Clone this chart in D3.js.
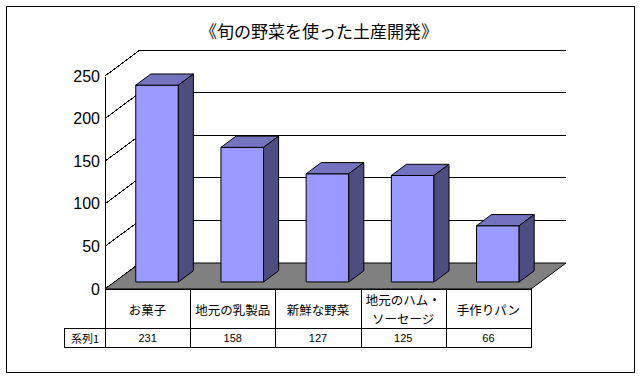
<!DOCTYPE html>
<html>
<head>
<meta charset="utf-8">
<script src="https://cdn.jsdelivr.net/npm/d3@7"></script>
<style>
  html, body { margin: 0; padding: 0; background: #fff; }
  svg { display: block; }
</style>
</head>
<body>
<svg id="chart" width="642" height="380"></svg>
<script>
const titleText = "《旬の野菜を使った土産開発》";
const seriesName = "系列1";
const categories = ["お菓子", "地元の乳製品", "新鮮な野菜", "地元のハム・\nソーセージ", "手作りパン"];
const values = [231, 158, 127, 125, 66];
const tickValues = [0, 50, 100, 150, 200, 250];

const svg = d3.select("#chart");

// depth projection (3D look)
const DX = 35, DY = 26;
const zFront = 0.27, zBack = 0.70;
const P = (x, y, z) => [x + DX * z, y - DY * z];

const x = d3.scaleBand().domain(d3.range(categories.length)).range([105, 531]).paddingInner(0.5).paddingOuter(0.25);
const y = d3.scaleLinear().domain([0, 250]).range([289, 76]);
const x0 = x.range()[0], x1 = x.range()[1];

// outer frame
svg.append("rect").attr("x", 6.5).attr("y", 6.5).attr("width", 628).attr("height", 366)
  .attr("fill", "#fff").attr("stroke", "#000").attr("stroke-width", 1);

// title
svg.append("text").attr("x", 319).attr("y", 30).attr("text-anchor", "middle")
  .attr("dominant-baseline", "central")
  .style("font-family", "'Noto Sans CJK JP', sans-serif").style("font-size", "17px")
  .text(titleText);

const line = d3.line();
const g = svg.append("g");

// gridlines: left wall diagonal + back wall horizontal
tickValues.forEach(t => {
  const a = [x0, y(t)], b = P(x0, y(t), 1), c = P(x1, y(t), 1);
  g.append("path").attr("d", line([a, b, c])).attr("fill", "none")
    .attr("stroke", "#000").attr("stroke-width", 1).attr("shape-rendering", "crispEdges");
});

// floor
g.append("path").attr("d", line([[x0, y(0)], P(x0, y(0), 1), P(x1, y(0), 1), [x1, y(0)]]) + "Z")
  .attr("fill", "#808080").attr("stroke", "#000").attr("stroke-width", 1);

// y axis
const axis = d3.axisLeft(y).tickValues(tickValues).tickSize(0).tickPadding(5);
const ag = svg.append("g").attr("transform", `translate(${x0},0)`).call(axis);
ag.select(".domain").attr("stroke", "#000").attr("shape-rendering", "crispEdges");
ag.selectAll("text").style("font-family", "'Liberation Sans', Arial, sans-serif")
  .style("font-size", "16px").attr("fill", "#000");

// bars
const bw = x.bandwidth();
values.forEach((v, i) => {
  const bx = x(i);
  const fl = P(bx, y(v), zFront), fb = P(bx, y(0), zFront);
  const xr = fl[0] + bw;
  const ddx = DX * (zBack - zFront), ddy = DY * (zBack - zFront);
  const bg = g.append("g").attr("stroke", "#000").attr("stroke-width", 1).attr("stroke-linejoin", "miter");
  bg.append("path").attr("d", line([[fl[0], fl[1]], [xr, fl[1]], [xr, fb[1]], [fl[0], fb[1]]]) + "Z")
    .attr("fill", "#9999FF");
  bg.append("path").attr("d", line([[fl[0], fl[1]], [xr, fl[1]], [xr + ddx, fl[1] - ddy], [fl[0] + ddx, fl[1] - ddy]]) + "Z")
    .attr("fill", "#7373BF");
  bg.append("path").attr("d", line([[xr, fl[1]], [xr + ddx, fl[1] - ddy], [xr + ddx, fb[1] - ddy], [xr, fb[1]]]) + "Z")
    .attr("fill", "#4D4D80");
});

// data table
const tTop = y(0), tMid = 328, tBot = 347, tLeft = 64;
const tg = svg.append("g").attr("stroke", "#000").attr("stroke-width", 1).attr("shape-rendering", "crispEdges");
const hl = (xa, xb, yy) => tg.append("line").attr("x1", xa).attr("x2", xb).attr("y1", yy + 0.5).attr("y2", yy + 0.5);
const vl = (xx, ya, yb) => tg.append("line").attr("x1", xx + 0.5).attr("x2", xx + 0.5).attr("y1", ya).attr("y2", yb);
hl(x0, x1, Math.round(tTop));
hl(tLeft, x1, tMid);
hl(tLeft, x1, tBot);
vl(tLeft, tMid, tBot + 1);
const step = x.step();
d3.range(categories.length + 1).forEach(i => vl(Math.round(x0 + i * step), tTop, tBot + 1));

const cg = svg.append("g").style("font-family", "'Noto Sans CJK JP', sans-serif").attr("text-anchor", "middle");
categories.forEach((c, i) => {
  const cx = x0 + (i + 0.5) * step;
  const lines = c.split("\n");
  const lh = 18.6;
  const cy = (tTop + tMid) / 2 + 0.5;
  const t = cg.append("text").style("font-size", "12.5px");
  lines.forEach((ln, k) => {
    t.append("tspan").attr("x", cx).attr("y", cy + (k - (lines.length - 1) / 2) * lh)
      .attr("dominant-baseline", "central").text(ln);
  });
  cg.append("text").attr("x", cx).attr("y", (tMid + tBot) / 2 + 0.5)
    .attr("dominant-baseline", "central")
    .style("font-family", "'Liberation Sans', Arial, sans-serif").style("font-size", "11px")
    .text(values[i]);
});
cg.append("text").attr("x", (tLeft + x0) / 2 + 0.5).attr("y", (tMid + tBot) / 2 + 0.5)
  .attr("dominant-baseline", "central").style("font-size", "11px").text(seriesName);
</script>
</body>
</html>
